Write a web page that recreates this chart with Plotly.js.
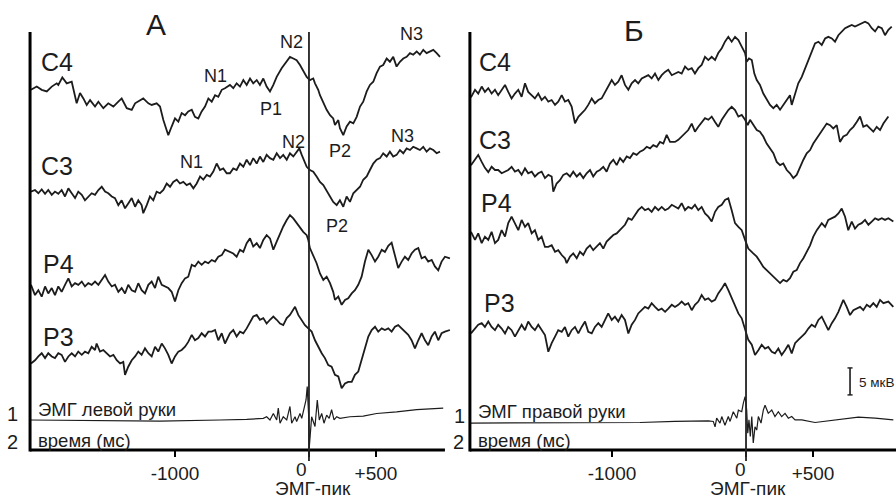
<!DOCTYPE html>
<html>
<head>
<meta charset="utf-8">
<script src="https://cdn.plot.ly/plotly-3.0.1.min.js"></script>
<style>html,body{margin:0;padding:0;background:#fff;}#chart{width:896px;height:501px;}</style>
</head>
<body>
<div id="chart"></div>
<script>
// ---------- DATA (time in ms relative to EMG peak, amplitude in µV) ----------
// Panel A (left hand)
const tA_C4 = [-2075,-2032,-1995,-1957,-1920,-1883,-1871,-1841,-1808,-1771,-1734,-1709,-1684,-1659,-1634,-1597,-1572,-1535,-1498,-1460,-1423,-1398,-1360,-1323,-1298,-1261,-1237,-1199,-1174,-1137,-1112,-1087,-1050,-1025,-1000,-975,-950,-925,-901,-875,-851,-826,-801,-776,-751,-726,-701,-677,-651,-627,-590,-565,-540,-515,-490,-465,-440,-416,-390,-366,-341,-316,-291,-266,-241,-204,-166,-142,-117,-92,-67,-43,-17,7,32,45,69,82,107,132,157,181,194,219,231,256,281,306,331,356,381,405,431,455,480,505,530,554,580,604,629,654,679,704,729,754,778,804,828,853,878,903,928,953,978];
const vA_C4 = [0.4,1.0,0.4,0.1,1.0,1.6,1.3,2.7,1.6,1.9,-2.1,-0.2,-1.2,-2.4,-1.5,-2.7,-1.8,-3.0,-2.1,-2.7,-1.8,-1.2,-3.0,-3.3,-2.1,-1.5,-1.2,-2.1,-2.4,-2.1,-2.7,-5.2,-8.0,-6.4,-4.9,-5.5,-3.9,-4.3,-3.6,-3.3,-4.6,-4.9,-3.6,-2.7,-1.2,-1.8,-0.6,-0.9,0.4,0.7,1.3,0.7,1.6,1.0,2.2,1.3,2.5,1.6,2.2,1.3,2.5,1.0,0.1,1.3,2.8,4.4,5.6,6.5,6.2,5.9,5.0,3.8,2.8,2.2,2.5,1.6,0.4,-0.6,-2.1,-3.3,-4.3,-4.9,-6.1,-5.2,-6.7,-8.0,-6.4,-5.5,-5.8,-4.6,-2.7,-1.8,0.1,1.3,1.9,3.5,4.7,5.0,6.2,5.6,6.5,4.7,5.6,6.2,6.5,7.2,6.9,7.5,6.9,7.8,7.2,7.5,7.8,7.2,6.5];

const tA_C3 = [-2075,-2045,-2020,-1995,-1970,-1946,-1920,-1896,-1871,-1846,-1821,-1796,-1771,-1746,-1722,-1696,-1672,-1647,-1622,-1597,-1572,-1547,-1522,-1498,-1472,-1448,-1423,-1398,-1373,-1349,-1323,-1298,-1274,-1249,-1237,-1211,-1187,-1162,-1137,-1112,-1087,-1062,-1037,-1013,-987,-963,-938,-913,-888,-863,-838,-813,-789,-763,-739,-714,-689,-664,-640,-614,-590,-565,-540,-515,-490,-465,-440,-416,-390,-366,-341,-316,-291,-266,-241,-216,-192,-166,-142,-117,-92,-72,-54,-37,-17,7,32,57,82,107,132,157,181,207,231,256,281,306,331,356,381,405,431,455,480,505,530,554,580,604,629,654,679,704,729,754,778,804,828,853,878,903,928,953,978];
const vA_C3 = [-0.3,0,-0.6,0.1,-0.7,0,-0.9,-0.3,-0.7,0,-1.2,0.3,-0.6,-1.5,-0.3,-0.9,-1.9,-1.2,-0.6,-0.9,0,0.6,-0.3,-0.6,-1.2,-1.5,-2.8,-1.9,-3.4,-2.5,-1.5,-3.1,-1.9,-2.8,-4.3,-2.8,-1.2,-1.9,-0.3,-0.6,0,1.2,0.6,1.5,1.9,1.2,1.5,0.9,1.2,0.3,1.2,2.5,1.9,2.8,2.5,3.4,4.9,3.7,4.0,3.1,3.1,4.0,3.7,4.9,4.3,5.6,4.6,5.9,4.9,6.2,5.2,6.5,5.9,5.6,6.8,5.9,6.5,5.6,6.8,6.2,7.1,7.7,6.5,5.6,4.3,3.7,3.4,2.5,1.5,0.9,-0.3,-1.2,-2.2,-2.8,-1.9,-3.1,-1.2,-2.2,-0.6,0,0.6,1.9,2.5,3.7,4.9,5.6,5.9,6.8,6.2,7.1,6.2,6.5,7.4,6.8,7.7,7.4,8.0,7.7,7.4,8.0,7.1,7.7,7.4,6.8,7.1];

const tA_P4 = [-2075,-2045,-2020,-1995,-1970,-1946,-1920,-1896,-1871,-1846,-1821,-1796,-1771,-1746,-1722,-1696,-1672,-1647,-1622,-1597,-1572,-1547,-1522,-1498,-1472,-1448,-1423,-1398,-1373,-1349,-1323,-1298,-1274,-1249,-1224,-1199,-1174,-1149,-1125,-1099,-1075,-1050,-1025,-1000,-975,-950,-925,-901,-875,-851,-826,-801,-776,-751,-726,-701,-677,-651,-627,-590,-565,-540,-515,-490,-465,-440,-416,-390,-366,-341,-316,-291,-266,-241,-216,-192,-166,-142,-117,-92,-67,-43,-17,-5,7,32,57,82,107,132,157,181,194,219,244,269,293,319,343,368,393,418,443,468,493,517,543,567,592,617,642,666,692,716,741,766,791,816,841,866,890,916,940,965,990,1015,1052];
const vA_P4 = [0.4,-1.5,-0.6,-1.8,0.1,-1.2,-0.2,-1.5,0.1,-0.9,0.4,1.6,0.1,0.7,0.4,1.0,0.1,0.7,0.4,1.0,0.4,1.3,2.2,1.0,0.1,0.4,-0.9,-0.2,-1.2,0.4,-0.6,-0.9,0.7,-0.6,-1.2,0.4,1.0,-0.2,1.9,0.4,0.1,-0.2,-0.9,-2.7,-0.6,0.7,1.6,1.9,4.1,3.8,4.7,4.1,4.7,4.4,5.0,4.7,5.6,5.9,6.9,6.5,6.2,5.6,6.9,6.5,8.1,9.0,7.5,8.1,7.2,8.7,9.6,9.0,6.9,8.4,9.9,11.2,12.4,13.3,12.7,11.8,10.9,10.2,9.6,8.7,7.2,5.9,4.4,2.5,1.3,1.9,0.7,-0.9,-2.4,-1.8,-3.3,-2.4,-2.1,-1.2,-0.6,0.4,1.9,4.7,6.9,5.9,4.7,5.6,6.9,6.5,7.6,8.2,5.9,3.5,4.7,5.6,5.0,6.2,6.9,7.2,5.3,5.6,4.7,5.0,3.8,3.1,4.7,5.6,5.3];

const tA_P3 = [-2075,-2045,-2020,-1995,-1970,-1946,-1920,-1896,-1871,-1846,-1821,-1796,-1771,-1746,-1722,-1696,-1672,-1647,-1622,-1597,-1585,-1560,-1535,-1510,-1485,-1460,-1435,-1410,-1386,-1373,-1349,-1323,-1298,-1274,-1249,-1224,-1199,-1174,-1149,-1125,-1099,-1075,-1050,-1025,-1000,-975,-950,-925,-901,-875,-851,-826,-801,-776,-751,-726,-701,-677,-651,-627,-590,-565,-540,-515,-490,-465,-440,-416,-390,-366,-341,-316,-291,-266,-241,-216,-192,-166,-142,-117,-104,-80,-54,-30,-5,20,45,69,95,119,144,169,194,219,244,269,293,319,343,368,393,418,443,468,493,517,543,567,592,617,642,666,692,716,741,766,791,816,841,866,890,916,940,965,990,1015,1052];
const vA_P3 = [-1.2,-0.6,0.1,0.7,-0.2,0.7,0.1,-0.2,0.7,0.4,-0.9,0.1,0.7,0.1,1.0,0.4,1.0,0.7,1.9,1.3,2.5,1.0,1.3,0.7,0.1,0.4,-0.6,-1.2,-0.9,-3.3,-1.8,-0.6,0.1,1.0,0.4,1.6,0.7,0.1,1.9,1.0,2.5,1.6,0.4,-1.2,0.1,1.0,1.3,1.9,2.8,4.1,3.1,3.5,4.4,3.8,4.7,4.7,5.0,3.1,4.4,2.5,4.4,5.0,3.8,4.7,4.4,5.3,6.5,7.5,7.8,6.9,7.2,6.2,6.9,7.5,6.9,6.2,5.9,7.2,7.8,8.7,9.3,7.8,6.9,5.9,5.3,4.7,3.1,1.9,0.7,-0.2,-1.5,-1.8,-3.3,-3.6,-5.8,-4.9,-4.6,-4.6,-3.3,-2.7,-0.6,1.9,3.8,5.0,5.6,4.7,5.3,5.0,5.3,4.7,5.6,5.9,5.3,4.7,4.1,3.1,1.6,3.1,4.4,3.1,2.2,3.8,4.7,3.1,4.4,4.7,5.0];

const tA_EMG = [-2082,-1560,-1112,-664,-590,-465,-341,-316,-291,-266,-241,-229,-216,-192,-166,-142,-129,-104,-92,-67,-54,-37,-22,-13,-2,2,20,45,62,77,95,112,132,151,169,187,207,231,306,405,505,654,804,1002];
const vA_EMG = [0,-0.1,-0.2,0,0,0.1,0.3,0.6,0,1.2,0,2.2,-0.6,0.6,0,2.5,-0.6,0.6,-0.3,1.2,0.3,1.9,3.7,6.2,0.6,-5.2,0.6,-1.2,3.7,0,1.2,-0.6,0.9,0.3,1.9,0,0.6,0.3,0.6,0.7,1.2,1.5,1.9,2.2];

// Panel Б (right hand)
const tB_C4 = [-2052,-2022,-1998,-1972,-1948,-1923,-1898,-1873,-1849,-1823,-1798,-1774,-1749,-1724,-1699,-1674,-1649,-1625,-1599,-1575,-1550,-1525,-1500,-1475,-1450,-1425,-1401,-1375,-1351,-1326,-1301,-1276,-1251,-1226,-1201,-1177,-1151,-1127,-1102,-1077,-1052,-1028,-1002,-978,-953,-928,-903,-878,-853,-828,-804,-778,-754,-729,-704,-679,-654,-629,-604,-580,-554,-505,-480,-455,-431,-405,-381,-356,-331,-306,-281,-256,-231,-207,-181,-157,-132,-107,-82,-57,-32,-7,5,22,43,62,80,104,129,154,179,204,229,254,278,304,328,341,366,390,416,440,465,490,515,540,565,590,614,640,664,689,714,739,763,789,813,838,863,888,913,938,963,987,1013,1037,1062,1087];
const vB_C4 = [-0.8,0.6,-0.1,1.2,0.2,0.9,-0.1,0.6,-0.4,0.6,1.5,0.2,-1.0,-0.1,0.6,-0.7,1.8,0.2,-0.4,-1.0,-0.1,-1.3,-0.7,-1.6,-1.3,-2.2,-1.6,-0.4,-1.6,-1.3,-2.5,-5.6,-4.4,-3.8,-3.1,-2.2,-1.0,-1.9,-1.3,-1.0,0.2,1.2,2.4,1.5,2.1,3.3,1.5,0.6,1.8,2.4,1.8,2.7,3.0,3.3,2.7,3.6,2.4,3.3,3.9,4.3,3.3,3.9,3.6,4.9,4.3,4.6,3.6,4.6,5.2,6.7,6.1,6.7,6.1,7.4,8.3,9.5,10.4,9.5,10.4,9.8,8.6,7.4,5.8,6.4,6.1,3.6,2.4,1.5,-0.1,-1.3,-2.2,-2.8,-2.2,-3.1,-2.2,-1.3,-0.4,-2.2,-0.1,1.8,3.0,4.6,6.1,7.6,9.2,9.5,8.9,10.1,10.4,10.1,9.5,10.7,11.4,12.0,12.3,12.6,12.3,12.6,12.9,13.2,12.9,12.0,11.4,12.3,12.0,10.7,11.7,12.3];

const tB_C3 = [-2052,-2022,-1998,-1972,-1948,-1923,-1898,-1873,-1849,-1823,-1798,-1774,-1749,-1724,-1699,-1674,-1649,-1625,-1599,-1575,-1550,-1525,-1500,-1475,-1450,-1438,-1413,-1388,-1363,-1338,-1313,-1289,-1263,-1239,-1214,-1189,-1164,-1140,-1114,-1090,-1065,-1040,-1015,-990,-965,-940,-916,-890,-866,-841,-816,-791,-766,-741,-716,-692,-666,-642,-617,-592,-567,-530,-505,-480,-455,-431,-405,-381,-356,-331,-306,-281,-256,-231,-207,-181,-157,-132,-107,-82,-57,-32,-7,13,30,54,80,104,129,154,179,204,229,254,278,304,328,353,378,403,428,453,478,502,528,552,577,602,627,651,677,701,726,751,776,801,826,851,875,901,925,950,975,1000,1025,1062];
const vB_C3 = [0.9,1.9,2.8,1.5,0.4,-0.4,0.6,0,0,-0.6,-0.3,0,0.6,-0.3,0,-0.9,0.3,-0.6,-0.3,-1.2,-0.6,-0.3,-1.5,-0.9,-1.2,-4.0,-2.5,-1.9,-0.9,-0.6,-1.2,-0.3,-1.2,-0.6,-1.5,-0.6,0,-1.2,-0.3,0,0.6,-0.3,1.2,1.9,0.9,2.2,1.5,2.5,2.2,3.1,2.8,3.4,3.7,4.3,4.0,4.6,4.3,5.2,4.9,6.5,5.2,5.2,5.6,6.2,6.8,7.4,8.6,7.1,8.0,8.9,9.6,9.3,9.9,8.9,8.0,9.3,10.2,11.1,11.7,11.1,9.9,10.2,9.3,8.3,9.3,8.3,7.4,7.1,6.2,4.9,4.0,3.1,1.5,0.9,1.2,0,-0.6,-1.5,-0.9,0.6,1.9,3.1,3.7,4.9,5.9,6.8,7.7,8.6,8.3,7.7,8.3,5.2,6.2,6.5,7.4,8.0,8.9,9.9,8.0,8.3,7.7,7.1,8.0,7.4,8.6,9.9];

const tB_P4 = [-2052,-2022,-1998,-1972,-1948,-1923,-1898,-1873,-1849,-1823,-1798,-1774,-1749,-1724,-1699,-1674,-1649,-1625,-1599,-1575,-1550,-1525,-1500,-1475,-1450,-1425,-1401,-1375,-1351,-1338,-1313,-1289,-1263,-1239,-1214,-1189,-1164,-1140,-1114,-1090,-1065,-1040,-1015,-990,-965,-940,-903,-878,-853,-828,-804,-778,-754,-729,-704,-679,-654,-629,-604,-580,-554,-505,-480,-455,-431,-405,-381,-356,-331,-306,-281,-256,-231,-207,-181,-157,-132,-107,-82,-57,-32,-7,17,54,80,104,129,154,179,204,229,254,278,304,328,353,378,403,428,453,478,502,528,565,590,614,640,664,689,714,739,763,789,813,838,863,888,913,938,963,987,1013,1037,1062,1099];
const vB_P4 = [0.6,-0.9,0.3,-1.5,-0.3,-0.9,0.6,-1.5,-0.9,0.9,-0.3,2.2,3.4,2.2,0.9,2.8,1.5,2.2,0.3,0.9,-0.9,-0.3,-2.2,-2.2,-1.9,-3.1,-2.8,-3.7,-4.3,-5.2,-4.0,-3.4,-4.3,-3.1,-3.7,-2.5,-1.9,-2.8,-2.2,-1.5,-2.5,-1.2,-0.6,0,0.3,0.9,1.9,3.1,2.8,3.7,4.6,5.2,4.6,4.9,4.3,5.2,4.6,5.2,4.6,4.9,5.6,4.9,5.9,4.6,5.2,4.9,5.6,4.6,5.2,4.0,3.4,2.5,4.3,5.2,5.6,6.5,6.8,4.6,2.2,1.5,0.9,-0.9,-2.5,-3.4,-4.0,-4.9,-5.9,-6.5,-7.1,-7.7,-8.3,-8.9,-8.3,-8.6,-8.0,-6.8,-6.5,-5.2,-4.3,-3.1,-1.9,-0.3,0.9,2.2,1.5,2.8,3.1,3.4,4.0,4.9,3.4,0.9,2.5,1.2,1.9,2.2,2.8,1.9,2.5,3.1,2.8,3.1,2.8,3.1,2.5];

const tB_P3 = [-2052,-2022,-1998,-1972,-1948,-1923,-1898,-1873,-1849,-1823,-1798,-1774,-1749,-1724,-1699,-1674,-1649,-1625,-1599,-1575,-1550,-1525,-1500,-1475,-1450,-1425,-1401,-1375,-1351,-1326,-1301,-1276,-1251,-1226,-1201,-1177,-1151,-1127,-1102,-1077,-1052,-1028,-1002,-978,-953,-928,-903,-878,-853,-828,-804,-778,-754,-729,-704,-679,-654,-629,-604,-580,-554,-530,-505,-480,-455,-431,-405,-381,-356,-331,-306,-281,-256,-231,-207,-181,-157,-132,-107,-82,-57,-32,-7,5,17,43,67,92,117,142,166,192,216,241,266,291,316,341,366,390,416,440,465,490,515,540,565,590,614,640,664,689,714,726,751,776,801,826,851,875,901,925,950,975,1000,1025,1062,1099];
const vB_P3 = [-1.0,-0.1,0.6,0.9,0.2,1.2,0.2,-0.4,0.6,-0.1,-1.0,0.2,-0.4,-1.6,-0.4,0.6,-0.4,1.2,0.2,-0.4,0.6,-0.4,-1.3,-4.4,-2.8,-1.6,-0.4,-0.7,0.2,-1.6,-0.4,0.2,-1.0,0.2,1.2,-0.7,-1.0,0.2,0.9,0.2,1.5,2.7,1.5,2.1,1.2,2.4,1.5,-1.0,0.6,1.5,2.7,3.3,3.9,3.6,4.6,3.9,3.3,3.6,3.0,3.6,4.3,3.9,4.3,4.9,4.3,4.6,3.3,4.3,4.9,6.1,5.2,5.5,4.9,5.2,6.4,7.3,8.3,7.0,5.5,3.9,2.7,1.8,-0.1,-1.3,-2.2,-3.1,-5.0,-4.1,-3.1,-3.8,-3.5,-4.4,-4.7,-3.8,-5.0,-4.1,-3.1,-4.7,-2.8,-2.2,-1.6,-1.0,-0.1,0.6,0.2,1.5,2.1,0.9,-0.4,0.9,1.8,3.0,4.3,5.2,3.9,2.4,3.3,3.6,3.9,3.3,4.3,3.9,4.6,3.9,5.2,4.6,4.9,3.9];

const tB_EMG = [-2052,-1687,-1239,-791,-530,-405,-281,-244,-231,-219,-194,-181,-157,-132,-119,-95,-69,-57,-32,-20,-7,5,13,22,32,43,54,67,80,92,112,129,142,166,192,216,241,266,291,316,341,366,416,515,590,714,838,963,1099];
const vB_EMG = [-0.2,-0.2,-0.2,-0.1,0.1,0.2,0.2,0.1,-0.9,0.7,-0.2,1.0,-0.6,1.0,0.1,1.9,0.7,2.2,1.9,3.5,4.7,2.2,-2.1,0.4,-2.7,1.0,-3.9,-0.9,-1.5,1.0,-0.2,2.2,3.1,1.6,2.2,1.0,1.9,1.0,1.6,0.7,1.0,0.4,0.4,-0.1,0.1,0.5,0.9,0.7,0.4];

const tickVals = [-1000, 0, 500];
const tickText = ['-1000', '', '+500'];
const channelNames = ['C4', 'C3', 'P4', 'P3'];
const scaleBarUV = 5;

// ---------- LAYOUT (stacking offsets in µV above the time axis) ----------
const W = 896, H = 501;
const offA = {C4: 66.3, C3: 48.15, P4: 30.19, P3: 17.22, EMG: 5.56};
const offB = {C4: 66.11, C3: 51.85, P4: 39.81, P3: 22.59, EMG: 5.19};
const FONT = 'Liberation Sans, Arial, Helvetica, sans-serif';
const INK = '#1c1c1c';

function tr(t, v, off, xa, ya, w) {
  return {x: t, y: v.map(a => a + off), mode: 'lines', xaxis: xa, yaxis: ya,
          line: {color: INK, width: w}, hoverinfo: 'skip', showlegend: false};
}
const EEGW = 1.8, EMGW = 1.2;
const data = [
  tr(tA_C4, vA_C4, offA.C4, 'x', 'y', EEGW),
  tr(tA_C3, vA_C3, offA.C3, 'x', 'y', EEGW),
  tr(tA_P4, vA_P4, offA.P4, 'x', 'y', EEGW),
  tr(tA_P3, vA_P3, offA.P3, 'x', 'y', EEGW),
  tr(tA_EMG, vA_EMG, offA.EMG, 'x', 'y', EMGW),
  tr(tB_C4, vB_C4, offB.C4, 'x2', 'y2', EEGW),
  tr(tB_C3, vB_C3, offB.C3, 'x2', 'y2', EEGW),
  tr(tB_P4, vB_P4, offB.P4, 'x2', 'y2', EEGW),
  tr(tB_P3, vB_P3, offB.P3, 'x2', 'y2', EEGW),
  tr(tB_EMG, vB_EMG, offB.EMG, 'x2', 'y2', EMGW)
];

const yDom = [51 / H, 1];
const yRange = [0, 450 / 5.4];
function xax(dom, rng) {
  return {domain: dom, range: rng, showgrid: false, zeroline: false, showline: false,
          ticks: 'outside', ticklen: 6, tickwidth: 2.5, tickcolor: '#000',
          tickmode: 'array', tickvals: tickVals, ticktext: tickText,
          tickfont: {family: FONT, size: 19, color: INK}, fixedrange: true};
}
function yax(anchor) {
  return {domain: yDom, range: yRange, showgrid: false, zeroline: false, showline: false,
          showticklabels: false, ticks: '', anchor: anchor, fixedrange: true};
}
const px = x => x / W, py = y => 1 - y / H;

const tAxisA = [-2082, 1015], tAxisB = [-2060, 1119];
const topY = py(32), axisY = py(450);
const shapes = [];
function axesShapes(xr, rng) {
  shapes.push({type: 'line', xref: xr, yref: 'paper', x0: rng[0], x1: rng[1], y0: axisY, y1: axisY, line: {color: '#000', width: 3}});
  shapes.push({type: 'line', xref: xr, yref: 'paper', x0: rng[0], x1: rng[0], y0: py(451.5), y1: topY, line: {color: '#000', width: 3}});
  shapes.push({type: 'line', xref: xr, yref: 'paper', x0: 0, x1: 0, y0: py(461), y1: topY, line: {color: '#222', width: 1.8}});
}
axesShapes('x', tAxisA);
axesShapes('x2', tAxisB);
// 5 µV scale bar in panel Б
const sbT = 776, sbY = 10.2;
shapes.push({type: 'line', xref: 'x2', yref: 'y2', x0: sbT, x1: sbT, y0: sbY, y1: sbY + scaleBarUV, line: {color: INK, width: 1.6}});
shapes.push({type: 'line', xref: 'x2', yref: 'y2', x0: sbT - 19, x1: sbT + 19, y0: sbY, y1: sbY, line: {color: INK, width: 1.4}});
shapes.push({type: 'line', xref: 'x2', yref: 'y2', x0: sbT - 19, x1: sbT + 19, y0: sbY + scaleBarUV, y1: sbY + scaleBarUV, line: {color: INK, width: 1.4}});

const ann = [];
function txt(s, x, y, size, anchor) {
  ann.push({text: s, x: px(x), y: py(y), xref: 'paper', yref: 'paper', showarrow: false,
            xanchor: anchor || 'center', yanchor: 'middle', font: {family: FONT, size: size, color: INK}});
}
txt('А', 156, 25, 30);
txt('Б', 634, 30, 30);
const labA = [[39, 62], [39, 166], [41, 264], [41, 337]];
const labB = [[477, 62], [477, 140], [479, 203], [482, 303]];
channelNames.forEach((n, i) => { txt(n, labA[i][0], labA[i][1], 25, 'left'); txt(n, labB[i][0], labB[i][1], 25, 'left'); });
[['N1', 215, 76], ['P1', 271, 109], ['N2', 291, 42], ['N3', 411, 34], ['N2', 293, 142], ['N1', 191, 162],
 ['P2', 340, 151], ['N3', 402, 136], ['P2', 337, 226]].forEach(a => txt(a[0], a[1], a[2], 18));
txt('ЭМГ левой руки', 36, 409, 18.5, 'left');
txt('время (мс)', 36, 440, 18.5, 'left');
txt('ЭМГ правой руки', 476, 411, 18.5, 'left');
txt('время (мс)', 476, 440, 18.5, 'left');
txt('1', 12, 414, 20); txt('2', 12, 442, 20);
txt('1', 459, 416, 20); txt('2', 458, 442, 20);
txt('0', 301, 469, 19); txt('0', 740, 469, 19);
txt('ЭМГ-пик', 313, 488, 19); txt('ЭМГ-пик', 748, 488, 19);
txt('5 мкВ', 857, 382, 13.5, 'left');

const layout = {
  width: W, height: H, margin: {l: 0, r: 0, t: 0, b: 0},
  paper_bgcolor: '#fff', plot_bgcolor: '#fff', showlegend: false,
  xaxis: Object.assign(xax([20 / W, 455 / W], [-2157, 1090]), {anchor: 'y'}),
  yaxis: yax('x'),
  xaxis2: Object.assign(xax([462 / W, 1], [-2119, 1119]), {anchor: 'y2'}),
  yaxis2: yax('x2'),
  shapes: shapes, annotations: ann
};
Plotly.newPlot('chart', data, layout, {staticPlot: true, displayModeBar: false});
</script>
</body>
</html>
